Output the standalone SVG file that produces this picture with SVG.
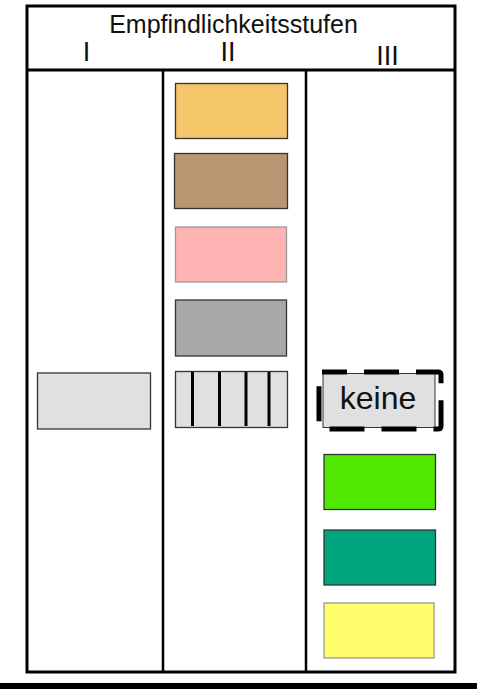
<svg xmlns="http://www.w3.org/2000/svg" width="477" height="689" viewBox="0 0 477 689">
<style>
.frame{fill:none;stroke:#000;stroke-width:3}
.div{stroke:#000;stroke-width:2.5}
.box{stroke:#333;stroke-width:1.3}
.lbox{stroke:#999;stroke-width:1.3}
.t{font-family:"Liberation Sans",Arial,sans-serif;fill:#111;text-anchor:middle}
</style>
<rect x="0" y="0" width="477" height="689" fill="#fff"/>
<g id="frame">
<rect class="frame" x="27" y="6" width="428" height="666"/>
<line class="frame" x1="27" y1="70" x2="455" y2="70"/>
<line class="div" x1="163" y1="70" x2="163" y2="672"/>
<line class="div" x1="306" y1="70" x2="306" y2="672"/>
<text class="t" x="233.5" y="33" font-size="25">Empfindlichkeitsstufen</text>
<text class="t" x="86.5" y="61" font-size="27">I</text>
<text class="t" x="228" y="61" font-size="27">II</text>
<text class="t" x="387.5" y="65" font-size="27">III</text>
</g>
<g id="col1">
<rect class="box" x="37.5" y="373" width="113" height="56" fill="#E0E0E0"/>
</g>
<g id="col2">
<rect class="box" x="175.5" y="83.5" width="112" height="55" fill="#F5C56A"/>
<rect class="box" x="174.5" y="153.5" width="113" height="55" fill="#BA9571"/>
<rect class="lbox" x="175.5" y="227" width="111" height="55" fill="#FFB4B4"/>
<rect class="box" x="175.5" y="300" width="111" height="56" fill="#A8A8A8"/>
<g id="hatched">
<rect class="box" x="175.5" y="371.5" width="112" height="56" fill="#E0E0E0"/>
<g stroke="#000" stroke-width="3">
<line x1="192.5" y1="372" x2="192.5" y2="426"/>
<line x1="219.5" y1="372" x2="219.5" y2="426"/>
<line x1="246" y1="372" x2="246" y2="426"/>
<line x1="269" y1="372" x2="269" y2="426"/>
</g>
</g>
</g>
<g id="col3">
<g id="keine">
<rect x="323" y="373.5" width="112" height="54" fill="#E0E0E0" stroke="#333" stroke-width="1"/>
<path d="M322,372 H438 Q441,372 441,375 V426 Q441,429 438,429 H322 Q319,429 319,426 V375 Q319,372 322,372 Z" fill="none" stroke="#000" stroke-width="5" stroke-dasharray="35 17" stroke-dashoffset="10" stroke-linejoin="round"/>
<text class="t" x="378" y="408.5" font-size="32">keine</text>
</g>
<rect class="box" x="324" y="454.5" width="111.5" height="55" fill="#50E800"/>
<rect class="box" x="324" y="530" width="111.5" height="55" fill="#00A57E"/>
<rect class="lbox" x="324" y="603" width="110" height="55" fill="#FFFF6E"/>
</g>
<rect x="0" y="683" width="477" height="6" fill="#000"/>
</svg>
